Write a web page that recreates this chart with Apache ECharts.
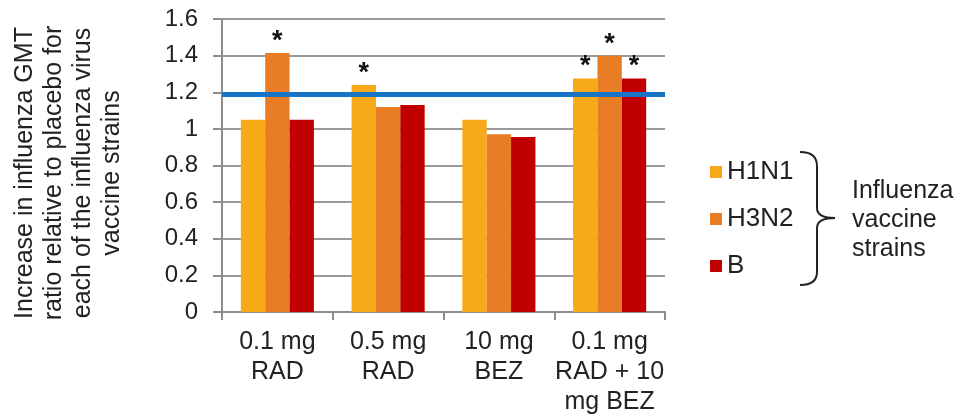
<!DOCTYPE html>
<html>
<head>
<meta charset="utf-8">
<script src="https://cdn.jsdelivr.net/npm/echarts@6/dist/echarts.min.js"></script>
<style>html,body{margin:0;padding:0;background:#fff;}#c{width:959px;height:417px;}</style>
</head>
<body>
<div id="c"></div>
<script>
const categories = ['0.1 mg\nRAD', '0.5 mg\nRAD', '10 mg\nBEZ', '0.1 mg\nRAD + 10\nmg BEZ'];
const seriesNames = ['H1N1', 'H3N2', 'B'];
const h1n1 = [1.05, 1.24, 1.05, 1.275];
const h3n2 = [1.415, 1.12, 0.97, 1.40];
const bStrain = [1.05, 1.13, 0.955, 1.275];
const sigH1N1 = [0, 1, 0, 1];
const sigH3N2 = [1, 0, 0, 1];
const sigB = [0, 0, 0, 1];
const thresholdValue = 1.19;
const yTicks = { min: 0, max: 1.6, interval: 0.2 };
const yTitle = ['Increase in influenza GMT', 'ratio relative to placebo for', 'each of the influenza virus', 'vaccine strains'];
const braceText = ['Influenza', 'vaccine', 'strains'];

const colors = ['#F8A91A', '#E87D25', '#C00000'];
const values = [h1n1, h3n2, bStrain];
const sigs = [sigH1N1, sigH3N2, sigB];
const font = 'Liberation Sans, Arial, sans-serif';

const chart = echarts.init(document.getElementById('c'));
const series = seriesNames.map((name, i) => ({
  name: name,
  type: 'bar',
  data: values[i],
  barGap: '0%',
  barCategoryGap: '34%',
  itemStyle: { color: colors[i] },
  label: {
    show: true,
    position: 'top',
    distance: -2,
    formatter: p => sigs[i][p.dataIndex] ? '*' : '',
    fontFamily: font,
    fontWeight: 'bold',
    fontSize: 27,
    lineHeight: 27,
    color: '#111'
  }
}));
series.push({
  name: 'threshold',
  type: 'line',
  data: [],
  silent: true,
  markLine: {
    silent: true,
    symbol: ['none', 'none'],
    label: { show: false },
    lineStyle: { color: '#1874C4', width: 5, type: 'solid' },
    data: [{ yAxis: thresholdValue }]
  }
});

const braceStyle = { stroke: '#222', lineWidth: 2 };

chart.setOption({
  animation: false,
  grid: { left: 222, right: 294, top: 19, bottom: 105 },
  legend: {
    orient: 'vertical',
    left: 705,
    top: 154,
    icon: 'rect',
    itemWidth: 12,
    itemHeight: 12,
    itemGap: 21,
    textStyle: { fontFamily: font, fontSize: 26, lineHeight: 25, color: '#222' },
    data: seriesNames
  },
  xAxis: {
    type: 'category',
    data: categories,
    axisLine: { lineStyle: { color: '#8c8c8c', width: 2 } },
    axisTick: { show: true, length: 8, lineStyle: { color: '#8c8c8c', width: 2 } },
    axisLabel: { fontFamily: font, fontSize: 25, lineHeight: 30, color: '#222', margin: 15, interval: 0 }
  },
  yAxis: {
    type: 'value',
    min: yTicks.min,
    max: yTicks.max,
    interval: yTicks.interval,
    axisLine: { show: true, lineStyle: { color: '#8c8c8c', width: 2 } },
    axisTick: { show: true, length: 9, lineStyle: { color: '#8c8c8c', width: 2 } },
    splitLine: { lineStyle: { color: '#9a9a9a', width: 2 } },
    axisLabel: {
      fontFamily: font, fontSize: 24, color: '#222', margin: 24,
      formatter: v => String(+v.toFixed(1))
    }
  },
  series: series,
  graphic: [
    {
      type: 'text',
      x: 69, y: 173,
      rotation: Math.PI / 2,
      style: {
        text: yTitle.join('\n'),
        fontFamily: font, fontSize: 25, lineHeight: 29,
        fill: '#222', align: 'center', verticalAlign: 'middle'
      }
    },
    { type: 'bezierCurve', shape: { x1: 800, y1: 152, x2: 817, y2: 166, cpx1: 817, cpy1: 152 }, style: braceStyle },
    { type: 'line', shape: { x1: 817, y1: 166, x2: 817, y2: 208 }, style: braceStyle },
    { type: 'bezierCurve', shape: { x1: 817, y1: 208, x2: 835, y2: 218, cpx1: 817, cpy1: 218 }, style: braceStyle },
    { type: 'bezierCurve', shape: { x1: 835, y1: 218, x2: 817, y2: 228, cpx1: 817, cpy1: 218 }, style: braceStyle },
    { type: 'line', shape: { x1: 817, y1: 228, x2: 817, y2: 272 }, style: braceStyle },
    { type: 'bezierCurve', shape: { x1: 817, y1: 272, x2: 800, y2: 285, cpx1: 817, cpy1: 285 }, style: braceStyle },
    {
      type: 'text',
      x: 852, y: 220,
      style: {
        text: braceText.join('\n'),
        fontFamily: font, fontSize: 25, lineHeight: 29,
        fill: '#222', align: 'left', verticalAlign: 'middle'
      }
    }
  ]
});
</script>
</body>
</html>
